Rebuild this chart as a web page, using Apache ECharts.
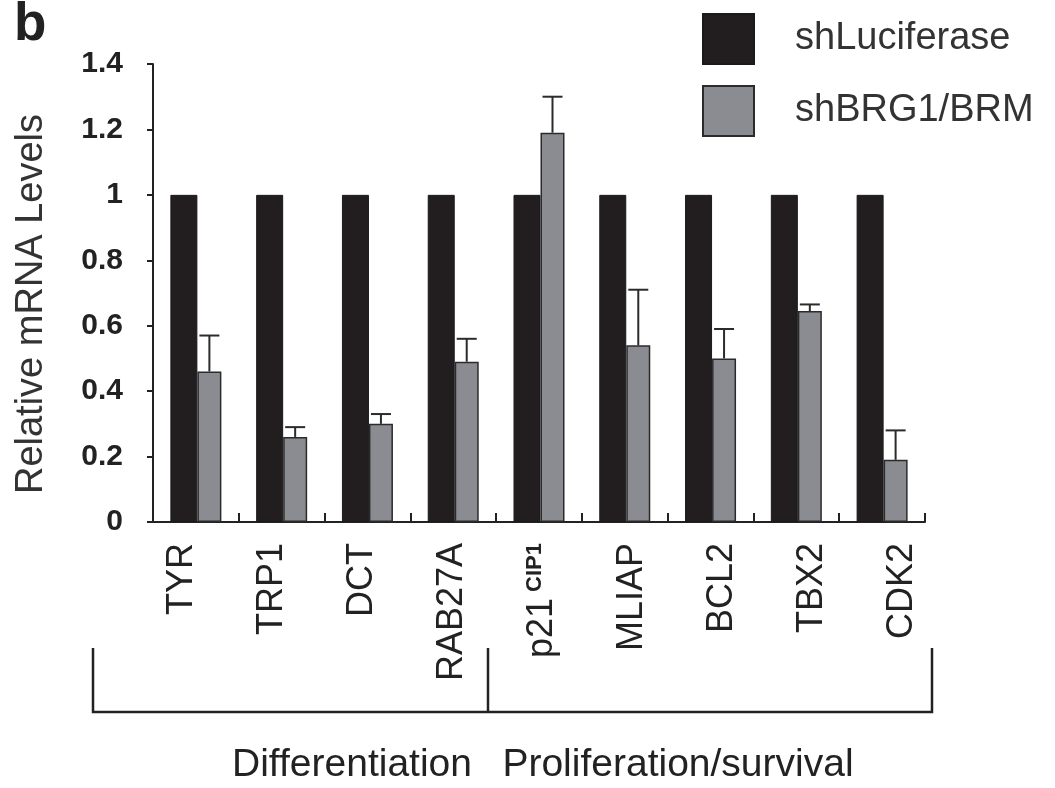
<!DOCTYPE html>
<html>
<head>
<meta charset="utf-8">
<script src="https://cdn.jsdelivr.net/npm/echarts@6/dist/echarts.min.js"></script>
<style>
  html, body { margin: 0; padding: 0; background: #fff; }
  #chart { width: 1055px; height: 788px; }
</style>
</head>
<body>
<div id="chart"></div>
<script>
// Gene panel: relative mRNA levels after BRG1/BRM knockdown
const categories = ['TYR', 'TRP1', 'DCT', 'RAB27A', 'p21 CIP1', 'MLIAP', 'BCL2', 'TBX2', 'CDK2'];
const shLuciferase = [1, 1, 1, 1, 1, 1, 1, 1, 1];
const shBRG1BRM = [0.46, 0.26, 0.30, 0.49, 1.19, 0.54, 0.50, 0.645, 0.19];
const shBRG1BRMErr = [0.11, 0.03, 0.03, 0.07, 0.11, 0.17, 0.09, 0.02, 0.09];
const seriesNames = ['shLuciferase', 'shBRG1/BRM'];
const groupLabels = ['Differentiation', 'Proliferation/survival'];
const yAxisMin = 0, yAxisMax = 1.4, yAxisStep = 0.2;

const FONT = '"Liberation Sans", Arial, sans-serif';
const BLACK_W = 27, GRAY_W = 24;
const INK = '#222';

const chart = echarts.init(document.getElementById('chart'), null, { renderer: 'canvas' });

const errData = shBRG1BRM.map((v, i) => [i, v, shBRG1BRMErr[i]]);

chart.setOption({
  animation: false,
  backgroundColor: '#fff',
  title: {
    text: 'b', left: 9, top: -6,
    textStyle: { fontFamily: FONT, fontSize: 53, fontWeight: 'bold', color: INK }
  },
  legend: {
    orient: 'vertical', left: 702, top: 13, padding: 0,
    icon: 'rect',
    itemWidth: 51, itemHeight: 50, itemGap: 20,
    data: seriesNames,
    textStyle: { fontFamily: FONT, fontSize: 38, color: '#333', padding: [0, 0, 0, 36] }
  },
  grid: [
    // bars
    { left: 153, right: 130, top: 64, bottom: 266, containLabel: false },
    // gene name row (labels are spread slightly wider than the bar groups)
    { left: 137, right: 108, top: 64, bottom: 266, containLabel: false }
  ],
  xAxis: [
    {
      type: 'category', gridIndex: 0,
      data: categories,
      boundaryGap: true,
      axisLine: { lineStyle: { color: INK, width: 2 } },
      axisTick: { show: true, inside: true, length: 9, lineStyle: { color: INK, width: 2 } },
      axisLabel: { show: false }
    },
    {
      type: 'category', gridIndex: 1,
      data: categories,
      boundaryGap: true,
      axisLine: { show: false },
      axisTick: { show: false },
      axisLabel: {
        rotate: 90, margin: 21, interval: 0,
        fontFamily: FONT, fontSize: 36, color: INK,
        verticalAlign: 'middle',
        formatter: function (v) {
          const parts = v.split(' ');
          return parts.length > 1 ? '{m|' + parts[0] + '}{s| ' + parts[1] + '}' : v;
        },
        rich: {
          m: { fontFamily: FONT, fontSize: 36, color: INK },
          s: { fontFamily: FONT, fontSize: 22, fontWeight: 'bold', color: INK, verticalAlign: 'top' }
        }
      }
    }
  ],
  yAxis: [
    {
      type: 'value', gridIndex: 0,
      min: yAxisMin, max: yAxisMax, interval: yAxisStep,
      name: 'Relative mRNA Levels',
      nameLocation: 'middle', nameGap: 102, nameRotate: 90,
      nameTextStyle: { fontFamily: FONT, fontSize: 38, color: '#333', padding: [0, 22, 0, 0] },
      splitLine: { show: false },
      axisLine: { show: true, lineStyle: { color: INK, width: 2 } },
      axisTick: { show: true, inside: false, length: 6, lineStyle: { color: INK, width: 2 } },
      axisLabel: {
        margin: 30, fontFamily: FONT, fontSize: 30, fontWeight: 'bold', color: INK,
        formatter: v => String(Math.round(v * 10) / 10)
      }
    },
    {
      type: 'value', gridIndex: 1, show: false,
      min: yAxisMin, max: yAxisMax, interval: yAxisStep
    }
  ],
  series: [
    {
      name: seriesNames[0], type: 'bar', data: shLuciferase,
      barWidth: BLACK_W, barGap: '0%',
      itemStyle: { color: '#221e1f', borderColor: '#1a1a1a', borderWidth: 1 }
    },
    {
      name: seriesNames[1], type: 'bar', data: shBRG1BRM,
      barWidth: GRAY_W, barGap: '0%',
      itemStyle: { color: '#8b8c91', borderColor: '#2b2b2b', borderWidth: 1.5 }
    },
    {
      // upper error whiskers on the knockdown bars
      type: 'custom', z: 5, silent: true,
      data: errData,
      encode: { x: 0, y: 1 },
      renderItem: function (params, api) {
        const i = api.value(0), v = api.value(1), e = api.value(2);
        const base = api.coord([i, v]);
        const top = api.coord([i, v + e]);
        const x = base[0] - (BLACK_W + GRAY_W) / 2 + BLACK_W + GRAY_W / 2;
        const st = { stroke: '#2b2b2b', lineWidth: 2 };
        return {
          type: 'group',
          children: [
            { type: 'line', shape: { x1: x, y1: base[1], x2: x, y2: top[1] }, style: st },
            { type: 'line', shape: { x1: x - 10, y1: top[1], x2: x + 10, y2: top[1] }, style: st }
          ]
        };
      }
    }
  ]
});

// Group bracket under the gene labels, split between RAB27A and p21
function drawBracket() {
  const c3 = chart.convertToPixel({ xAxisIndex: 1 }, 3);
  const c4 = chart.convertToPixel({ xAxisIndex: 1 }, 4);
  const c8 = chart.convertToPixel({ xAxisIndex: 0 }, 8);
  const c7 = chart.convertToPixel({ xAxisIndex: 0 }, 7);
  const split = (c3 + c4) / 2 - 9;
  const left = 93;
  const right = c8 + (c8 - c7) / 2 + 7;
  const yTop = 648, yBot = 712;
  const ls = { stroke: INK, lineWidth: 2.5, fill: null };
  chart.setOption({
    graphic: [
      { type: 'polyline', silent: true, shape: { points: [[left, yTop], [left, yBot], [right, yBot], [right, yTop]] }, style: ls },
      { type: 'line', silent: true, shape: { x1: split, y1: yTop, x2: split, y2: yBot }, style: ls },
      { type: 'text', silent: true, x: split - 136, y: 765,
        style: { text: groupLabels[0], font: '39px ' + FONT, fill: INK, align: 'center', verticalAlign: 'middle' } },
      { type: 'text', silent: true, x: split + 190, y: 765,
        style: { text: groupLabels[1], font: '39px ' + FONT, fill: INK, align: 'center', verticalAlign: 'middle' } }
    ]
  });
}
drawBracket();
</script>
</body>
</html>
